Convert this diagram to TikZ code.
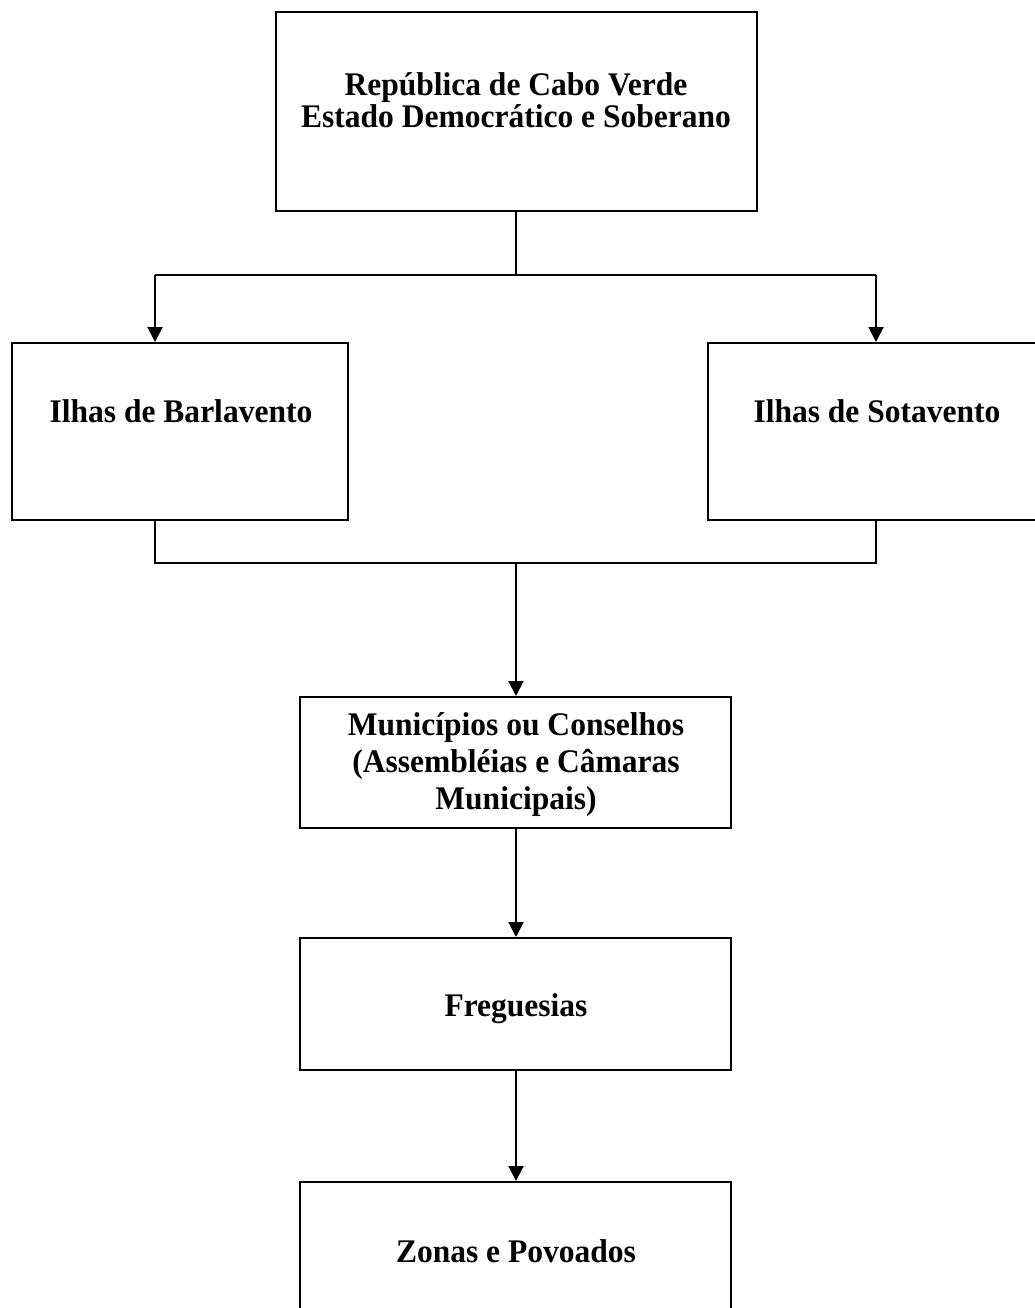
\documentclass[tikz,border=0pt]{standalone}
\usepackage{fontspec}
\setmainfont{Liberation Serif}
\newfontfamily\lblfont[FakeStretch=0.955]{Liberation Serif}
\usetikzlibrary{arrows.meta}
\begin{document}
\begin{tikzpicture}[x=1pt,y=-1pt,
  box/.style={draw=black,line width=2pt,rectangle,inner sep=0pt,fill=none},
  lbl/.style={font=\lblfont\fontsize{33}{37}\selectfont\bfseries,inner sep=0pt},
  conn/.style={line width=2pt},
  arr/.style={line width=2pt,-{Triangle[width=15pt,length=15pt]}}]
\useasboundingbox (0,0) rectangle (1035,1308);
\fill[white] (0,0) rectangle (1035,1308);
% boxes
\node[box,minimum width=481pt,minimum height=199pt] (top) at (516.5,111.5) {};
\node[box,minimum width=336pt,minimum height=177pt] (left) at (180,431.5) {};
\node[box,minimum width=340pt,minimum height=177pt] (right) at (878,431.5) {};
\node[box,minimum width=431pt,minimum height=131pt] (mun) at (515.5,762.5) {};
\node[box,minimum width=431pt,minimum height=132pt] (freg) at (515.5,1004) {};
\node[box,minimum width=431pt,minimum height=148pt] (zon) at (515.5,1256) {};
% texts
\node[lbl,align=center,font=\lblfont\fontsize{33}{32}\selectfont\bfseries] (toptxt) at (516,100) {República de Cabo Verde\\Estado Democrático e Soberano};
\node[lbl] (lefttxt) at (181,411) {Ilhas de Barlavento};
\node[lbl] (righttxt) at (877,411) {Ilhas de Sotavento};
\node[lbl,align=center] (muntxt) at (516,765) {Municípios ou Conselhos\\(Assembléias e Câmaras\\Municipais)};
\node[lbl] (fregtxt) at (516,1009) {Freguesias};
\node[lbl] (zontxt) at (516,1251) {Zonas e Povoados};
% junctions
\coordinate (j1) at (516,275);
\coordinate (lx) at (155,0);
\coordinate (rx) at (876,0);
\coordinate (j2) at (516,563);
% connectors
\draw[conn] (top.south -| j1) -- (j1);
\draw[conn] (j1) -- (j1 -| lx);
\draw[conn] (j1) -- (j1 -| rx);
\draw[arr] (j1 -| lx) -- (left.north -| lx);
\draw[arr] (j1 -| rx) -- (right.north -| rx);
\draw[conn] (left.south -| lx) |- (j2);
\draw[conn] (right.south -| rx) |- (j2);
\draw[arr] (j2) -- (mun.north -| j2);
\draw[arr] (mun.south -| j2) -- (freg.north -| j2);
\draw[arr] (freg.south -| j2) -- (zon.north -| j2);
\end{tikzpicture}
\end{document}
